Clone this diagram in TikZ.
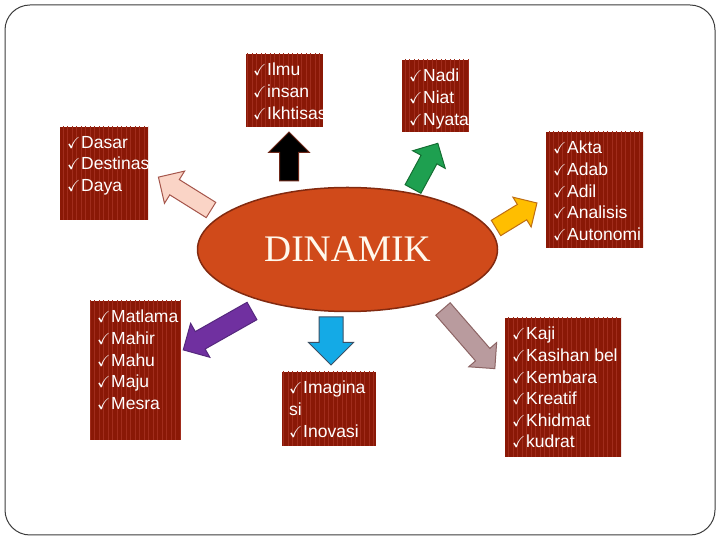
\documentclass[tikz,border=0pt]{standalone}
\usepackage{fontspec}
\setmainfont{Liberation Sans}
\newfontfamily\titlefont{Liberation Serif}
\usepackage{amssymb}
\usetikzlibrary{shapes.geometric, shapes.arrows, patterns.meta}

\definecolor{boxred}{RGB}{138,24,6}
\definecolor{stripe}{RGB}{160,44,28}
\definecolor{dinamik}{RGB}{208,74,26}
\definecolor{dinamikline}{RGB}{130,42,16}
\definecolor{cream}{RGB}{255,248,236}
\definecolor{framegray}{RGB}{60,60,60}

\newcommand{\tick}{\makebox[14pt][l]{\fontsize{16}{16}\selectfont$\checkmark$}}

\tikzset{
  listbox/.style={rectangle, fill=boxred, inner sep=0, outer sep=0, anchor=north west,
    postaction={pattern={Lines[angle=90,distance=4.5pt,line width=0.6pt]}, pattern color=stripe}},
  listtext/.style={anchor=north west, inner sep=0, align=left, text=white,
    font=\fontsize{17.5}{21.6}\selectfont},
  blockarrow/.style n args={4}{single arrow, anchor=tail, rotate=#1, line width=1pt,
    minimum height=#2pt, minimum width=0pt, inner xsep=0pt, inner ysep={#4pt/2}, outer sep=0pt,
    single arrow head extend={(#3pt-#4pt)/2}}
}

\begin{document}
\begin{tikzpicture}[x=1pt,y=1pt]
  \useasboundingbox (0,0) rectangle (720,540);
  \draw[framegray, line width=1pt, rounded corners=25pt] (5,5) rectangle (715,535);

  % centre
  \node[ellipse, fill=dinamik, draw=dinamikline, line width=1.5pt, minimum width=300pt,
    minimum height=124pt, inner sep=0, text=cream,
    font=\titlefont\fontsize{37.5}{37.5}\selectfont] (dinamik) at (347.5,290.5) {DINAMIK};

  % lists
  \node[listbox, minimum width=77pt, minimum height=73pt] (bIlmu) at (246,486) {};
  \node[listtext] (tIlmu) at (253,477) {\tick Ilmu\\ \tick insan\\ \tick Ikhtisas};

  \node[listbox, minimum width=67pt, minimum height=72pt] (bNadi) at (402,480) {};
  \node[listtext] (tNadi) at (409,471) {\tick Nadi\\ \tick Niat\\ \tick Nyata};

  \node[listbox, minimum width=88pt, minimum height=93pt] (bDasar) at (60,413) {};
  \node[listtext] (tDasar) at (67,404) {\tick Dasar\\ \tick Destinas\\ \tick Daya};

  \node[listbox, minimum width=97pt, minimum height=116pt] (bAkta) at (546,408) {};
  \node[listtext] (tAkta) at (553,399) {\tick Akta\\ \tick Adab\\ \tick Adil\\ \tick Analisis\\ \tick Autonomi};

  \node[listbox, minimum width=91pt, minimum height=139pt] (bMatlama) at (90,239) {};
  \node[listtext] (tMatlama) at (97,230) {\tick Matlama\\ \tick Mahir\\ \tick Mahu\\ \tick Maju\\ \tick Mesra};

  \node[listbox, minimum width=94pt, minimum height=74pt] (bImagina) at (282,168) {};
  \node[listtext] (tImagina) at (289,159) {\tick Imagina\\ si\\ \tick Inovasi};

  \node[listbox, minimum width=116pt, minimum height=139pt] (bKaji) at (505,222) {};
  \node[listtext] (tKaji) at (512,213) {\tick Kaji\\ \tick Kasihan bel\\ \tick Kembara\\ \tick Kreatif\\ \tick Khidmat\\ \tick kudrat};

  % block arrows
  \node[blockarrow={90}{49}{40}{18}, fill=black, draw={rgb,255:red,110;green,40;blue,25}] (aIlmu) at (289,359) {};
  \node[blockarrow={61.5}{52}{36}{17}, fill={rgb,255:red,30;green,160;blue,80}, draw={rgb,255:red,20;green,110;blue,50}] (aNadi) at (413,351) {};
  \node[blockarrow={148}{62}{37}{17}, fill={rgb,255:red,250;green,212;blue,198}, draw={rgb,255:red,165;green,85;blue,75}] (aDasar) at (211,330) {};
  \node[blockarrow={31.4}{48}{34}{17}, fill={rgb,255:red,255;green,190;blue,0}, draw={rgb,255:red,190;green,110;blue,20}] (aAkta) at (496,312) {};
  \node[blockarrow={209.5}{79}{38}{19}, fill={rgb,255:red,112;green,48;blue,160}, draw={rgb,255:red,85;green,40;blue,125}] (aMatlama) at (252,229) {};
  \node[blockarrow={270}{48}{44}{23}, fill={rgb,255:red,20;green,170;blue,230}, draw={rgb,255:red,60;green,80;blue,100}] (aImagina) at (331,223) {};
  \node[blockarrow={-49}{79}{36}{18}, fill={rgb,255:red,185;green,155;blue,158}, draw={rgb,255:red,140;green,100;blue,100}] (aKaji) at (443,231) {};
\end{tikzpicture}
\end{document}
